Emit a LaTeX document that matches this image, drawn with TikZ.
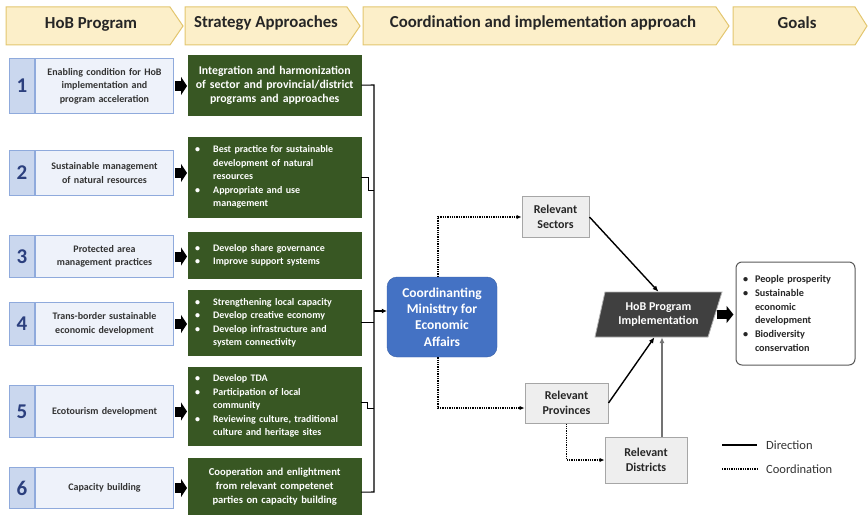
\documentclass[tikz,border=0pt]{standalone}
\usepackage{fontspec}
\setmainfont{Carlito}
\usetikzlibrary{arrows.meta}

\definecolor{hdrfill}{HTML}{FCEFC9}
\definecolor{hdrline}{HTML}{E3C66F}
\definecolor{numfill}{HTML}{CAD7EE}
\definecolor{txtfill}{HTML}{EEF2FA}
\definecolor{cellline}{HTML}{8FAADC}
\definecolor{numblue}{HTML}{2B3F7E}
\definecolor{stratgreen}{HTML}{385723}
\definecolor{coordblue}{HTML}{4472C4}
\definecolor{relfill}{HTML}{EEEEEE}
\definecolor{relline}{HTML}{A6A6A6}
\definecolor{implfill}{HTML}{404040}

% bullet paragraph with hanging indent: optional arg = indent
\newcommand{\bitem}[2][18pt]{\noindent\hangindent=#1\hangafter=1\makebox[#1][l]{\textbullet}#2\par}

\begin{document}
\begin{tikzpicture}[x=1pt,y=-1pt,
  hdr/.style={fill=hdrfill, draw=hdrline, line width=1pt},
  hdrtext/.style={font=\fontsize{16.8}{19}\selectfont\bfseries, text=black!85, inner sep=0pt},
  numcell/.style={draw=cellline, fill=numfill, line width=1pt, minimum width=25pt,
    font=\fontsize{21}{21}\selectfont\bfseries, text=numblue, inner sep=0pt},
  progcell/.style={draw=cellline, fill=txtfill, line width=1pt, minimum width=138pt,
    text width=130pt, align=center, inner sep=0pt, anchor=north west,
    font=\fontsize{10}{13.5}\selectfont\bfseries, text=black!80},
  greenbox/.style={fill=stratgreen, draw=stratgreen, minimum width=173pt, text width=159pt,
    inner xsep=7pt, inner ysep=0pt, text=white, anchor=north west, align=left,
    font=\fontsize{10}{13.5}\selectfont\bfseries},
  greenmid/.style={greenbox, align=center},
  blockarrow/.style={line width=10pt, -{Triangle[length=6pt,width=18pt]}, shorten <=1pt, shorten >=1pt},
  bus/.style={draw=black, line width=1.1pt},
  dirarrow/.style={line width=1.4pt, -{Latex[length=6pt,width=5pt]}},
  coordline/.style={densely dotted, line width=1.3pt, -{Latex[length=5pt,width=4.5pt]}},
  relbox/.style={fill=relfill, draw=relline, line width=1pt, align=center, inner sep=0pt,
    font=\fontsize{12}{15}\selectfont\bfseries, text=black!85},
]
\useasboundingbox (0,0) rectangle (868,516);

% ---- header chevrons ----
\draw[hdr] (6,7) -- (170,7) -- (183,26) -- (170,45) -- (6,45) -- cycle;
\node[hdrtext] (h1) at (91,24) {HoB Program};
\draw[hdr] (185,7) -- (347,7) -- (360,26) -- (347,45) -- (185,45) -- cycle;
\node[hdrtext] (h2) at (266,23) {Strategy Approaches};
\draw[hdr] (363,7) -- (716,7) -- (729,26) -- (716,45) -- (363,45) -- cycle;
\node[hdrtext] (h3) at (543,23) {Coordination and implementation approach};
\draw[hdr] (733,7) -- (855,7) -- (867,26) -- (855,45) -- (733,45) -- cycle;
\node[hdrtext] (h4) at (797,23) {Goals};

% ---- HoB program items ----
\node[progcell, minimum height=55pt] (t1) at (35,58) {Enabling condition for HoB\\implementation and\\program acceleration};
\node[numcell, minimum height=55pt, anchor=north east] (n1) at (t1.north west) {1};
\node[progcell, minimum height=45pt] (t2) at (35,150) {Sustainable management\\of natural resources};
\node[numcell, minimum height=45pt, anchor=north east] (n2) at (t2.north west) {2};
\node[progcell, minimum height=42pt] (t3) at (35,235) {Protected area\\management practices};
\node[numcell, minimum height=42pt, anchor=north east] (n3) at (t3.north west) {3};
\node[progcell, minimum height=43pt] (t4) at (35,302) {Trans-border sustainable\\economic development};
\node[numcell, minimum height=43pt, anchor=north east] (n4) at (t4.north west) {4};
\node[progcell, minimum height=52pt] (t5) at (35,385) {Ecotourism development};
\node[numcell, minimum height=52pt, anchor=north east] (n5) at (t5.north west) {5};
\node[progcell, minimum height=41pt] (t6) at (35,467) {Capacity building};
\node[numcell, minimum height=41pt, anchor=north east] (n6) at (t6.north west) {6};

% ---- strategy approaches ----
\node[greenmid, minimum height=60pt, font=\fontsize{11.8}{14}\selectfont\bfseries] (g1) at (188,55)
  {Integration and harmonization\\of sector and provincial/district\\programs and approaches};
\node[greenbox, minimum height=80pt] (g2) at (188,137)
  {\bitem{Best practice for sustainable\newline development of natural\newline resources}
   \bitem{Appropriate and use\newline management}};
\node[greenbox, minimum height=46pt] (g3) at (188,232)
  {\bitem{Develop share governance}
   \bitem{Improve support systems}};
\node[greenbox, minimum height=65pt] (g4) at (188,290)
  {\bitem{Strengthening local capacity}
   \bitem{Develop creative economy}
   \bitem{Develop infrastructure and\newline system connectivity}};
\node[greenbox, minimum height=78pt] (g5) at (188,367)
  {\bitem{Develop TDA}
   \bitem{Participation of local\newline community}
   \bitem{Reviewing culture, traditional\newline culture and heritage sites}};
\node[greenmid, minimum height=56pt, font=\fontsize{10.6}{14}\selectfont\bfseries] (g6) at (188,458)
  {Cooperation and enlightment\\from relevant competenet\\parties on capacity building};

% ---- block arrows program -> strategy ----
\foreach \i in {1,...,6}{
  \draw[blockarrow] (t\i.east) -- (t\i.east -| g\i.west);
}

% ---- collecting bus ----
\coordinate (bustop) at (374,85);
\coordinate (busbot) at (374,492);
\draw[bus] (g1.east) -- (bustop) -- (busbot) -- ([yshift=-6pt]g6.east);
\draw[bus] (g2.east) -- ++(7,0) |- ([yshift=-13pt]g2.east -| bustop);
\draw[bus] (g4.east) -- (g4.east -| bustop);
\draw[bus] ([yshift=4pt]g5.east) -- ++(6,0) |- ([yshift=-2pt]g5.east -| bustop);

% ---- coordination ----
\node[fill=coordblue, draw=coordblue!85!black, rounded corners=10pt, minimum width=110pt,
  minimum height=80pt, align=center, text=white, inner sep=0pt,
  font=\fontsize{13.5}{16.3}\selectfont\bfseries] (coord) at (442,317)
  {Coordinanting\\Ministtry for\\Economic\\Affairs};
\draw[bus, -{Latex[length=5pt,width=5pt]}] ([yshift=6pt]coord.west -| bustop) -- ([yshift=6pt]coord.west);

\node[relbox, minimum width=67pt, minimum height=40pt] (sect) at (555.5,217) {Relevant\\Sectors};
\node[relbox, minimum width=83pt, minimum height=40pt] (prov) at (566.5,403) {Relevant\\Provinces};
\node[relbox, minimum width=82pt, minimum height=46pt] (dist) at (646,460) {Relevant\\Districts};

\draw[coordline] ([xshift=-4pt]coord.north) |- (sect.west);
\draw[coordline] ([xshift=-4pt]coord.south) |- ([yshift=-5pt]prov.west);
\draw[coordline] (prov.south) |- (dist.west);

% ---- implementation ----
\fill[implfill, draw=black!30, line width=0.8pt] (595,337) -- (605,292) -- (722,292) -- (708,337) -- cycle;
\node[minimum width=110pt, minimum height=45pt, align=center, text=white, inner sep=0pt,
  font=\fontsize{12}{14.5}\selectfont\bfseries] (impl) at (658.5,314.5) {HoB Program\\Implementation};

\draw[dirarrow] (sect.east) -- (impl.north);
\draw[dirarrow] (prov.east) -- ([xshift=-4pt]impl.south);
\draw[dirarrow, draw=black!55] ([xshift=16pt]dist.north) -- ([xshift=16pt]dist.north |- impl.south);

% ---- goals ----
\node[draw=black!65, line width=1pt, rounded corners=6pt, minimum width=119pt, minimum height=103pt,
  text width=105pt, inner xsep=7pt, inner ysep=0pt, align=left, text=black!85,
  font=\fontsize{10.2}{13.8}\selectfont\bfseries] (goals) at (795.5,313.5)
  {\bitem[12pt]{People prosperity}
   \bitem[12pt]{Sustainable\newline economic\newline development}
   \bitem[12pt]{Biodiversity\newline conservation}};
\draw[line width=9pt, -{Triangle[length=7pt,width=17pt]}, shorten <=3pt, shorten >=2pt]
  (impl.east) -- (impl.east -| goals.west);

% ---- legend ----
\coordinate (lgA) at (722,445);
\coordinate (lgB) at (757,445);
\coordinate (lgC) at (722,469);
\coordinate (lgD) at (757,469);
\draw[line width=1.5pt] (lgA) -- (lgB);
\draw[densely dotted, line width=1.3pt] (lgC) -- (lgD);
\node[anchor=west, inner sep=0pt, font=\fontsize{12.5}{14}\selectfont, text=black!80] (lgdir) at (766,445) {Direction};
\node[anchor=west, inner sep=0pt, font=\fontsize{12.5}{14}\selectfont, text=black!80] (lgcoo) at (766,469) {Coordination};
\end{tikzpicture}
\end{document}
